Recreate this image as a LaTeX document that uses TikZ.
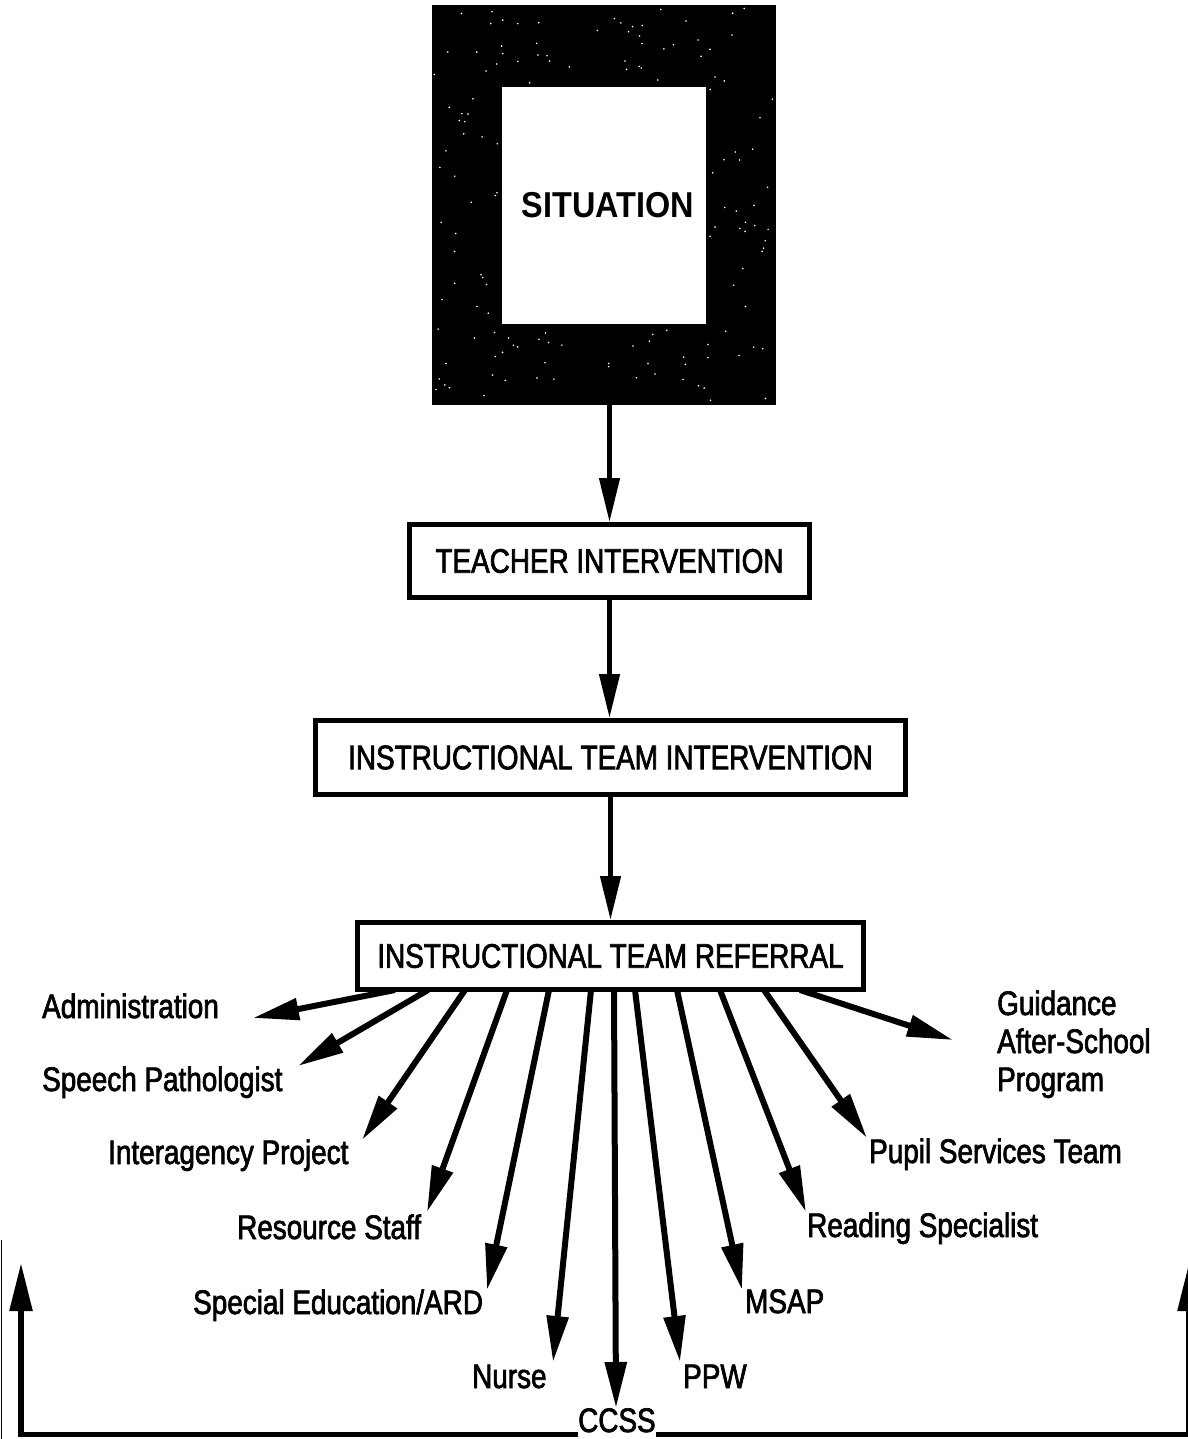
\documentclass[tikz,border=0pt]{standalone}
\usepackage{fontspec}
\setmainfont{Liberation Sans}[FakeStretch=0.82,FakeBold=2]
\newfontfamily\sitfont{Liberation Sans}[FakeStretch=0.9]
\usetikzlibrary{arrows.meta,calc}
\tikzset{
  boxst/.style={draw, line width=5pt, inner sep=0pt, font=\fontsize{34}{40}\selectfont},
  varr/.style={line width=4.5pt, -{Triangle[length=44pt,width=20pt]}},
  farr/.style={line width=6pt, -{Triangle[length=46pt,width=21pt]}},
  fbarr/.style={line width=5.5pt, -{Triangle[length=48pt,width=22pt]}},
  lbl/.style={inner sep=0pt, anchor=base west, font=\fontsize{34}{40}\selectfont},
}
\begin{document}
\begin{tikzpicture}[x=1pt,y=-1pt]
\useasboundingbox (0,0) rectangle (1187,1439);
\fill[white] (0,0) rectangle (1187,1439);

% situation frame
\node[fill=black, minimum width=344pt, minimum height=400pt, inner sep=0pt] (sit) at (604,205) {};
\pgfmathsetseed{11}
\foreach \i in {1,...,45}{
  \pgfmathsetmacro\xx{434+340*rnd}\pgfmathsetmacro\yy{8+76*rnd}
  \fill[white] (\xx,\yy) circle (0.9pt);
  \pgfmathsetmacro\xx{434+340*rnd}\pgfmathsetmacro\yy{328+74*rnd}
  \fill[white] (\xx,\yy) circle (0.9pt);
}
\foreach \i in {1,...,25}{
  \pgfmathsetmacro\xx{435+64*rnd}\pgfmathsetmacro\yy{88+236*rnd}
  \fill[white] (\xx,\yy) circle (0.9pt);
  \pgfmathsetmacro\xx{709+64*rnd}\pgfmathsetmacro\yy{88+236*rnd}
  \fill[white] (\xx,\yy) circle (0.9pt);
}
\node[fill=white, minimum width=204pt, minimum height=237pt, inner sep=0pt] (sitin) at (604,205.5) {};
\node[inner sep=0pt, font=\sitfont\bfseries\fontsize{36}{40}\selectfont] (sittxt) at (608,205) {SITUATION};

% boxes
\node[boxst, minimum width=400pt, minimum height=73pt] (ti) at (609.5,561) {TEACHER INTERVENTION};
\node[boxst, minimum width=590pt, minimum height=74pt] (iti) at (610.5,757.5) {INSTRUCTIONAL TEAM INTERVENTION};
\node[boxst, minimum width=506pt, minimum height=67pt] (itr) at (610.5,956) {INSTRUCTIONAL TEAM REFERRAL};

\draw[varr] (ti.north |- sit.south) -- (ti.north);
\draw[varr] (ti.south) -- (ti.south |- iti.north);
\draw[varr] (iti.south) -- (iti.south |- itr.north);

% labels
\node[lbl] (adm) at (42,1018) {Administration};
\node[lbl] (spp) at (42,1091) {Speech Pathologist};
\node[lbl] (iap) at (108,1164) {Interagency Project};
\node[lbl] (res) at (237,1239) {Resource Staff};
\node[lbl] (sped) at (193,1314) {Special Education/ARD};
\node[lbl] (nur) at (472,1388) {Nurse};
\node[lbl] (ccss) at (578,1432) {CCSS};
\node[lbl] (ppw) at (683,1388) {PPW};
\node[lbl] (msap) at (745,1313) {MSAP};
\node[lbl] (rsp) at (807,1237) {Reading Specialist};
\node[lbl] (pst) at (869,1163) {Pupil Services Team};
\node[lbl] (gd1) at (997,1015) {Guidance};
\node[lbl] (gd2) at (997,1053) {After-School};
\node[lbl] (gd3) at (997,1091) {Program};

% fan arrow tips
\coordinate (t1) at (253,1018);
\coordinate (t2) at (298,1066);
\coordinate (t3) at (362,1140);
\coordinate (t4) at (427,1212);
\coordinate (t5) at (487,1290);
\coordinate (t6) at (553,1362);
\coordinate (t7) at (616,1408);
\coordinate (t8) at (680,1362);
\coordinate (t9) at (742,1290);
\coordinate (t10) at (806,1212);
\coordinate (t11) at (867,1138);
\coordinate (t12) at (953,1040);
\foreach \dx [count=\i] in {40,73,110,152,194,236,259,280,322,365,409,445}
  \draw[farr] ($(itr.south west)+(\dx,-2)$) -- (t\i);

% feedback line
\coordinate (lc) at (21,1434.5);
\coordinate (lt) at (21,1263);
\coordinate (rc) at (1189,1434.5);
\coordinate (rt) at (1189,1263);
\draw[fbarr] (ccss.base west |- lc) -- (lc) -- (lt);
\draw[fbarr] (ccss.base east |- rc) -- (rc) -- (rt);
\draw[line width=1.5pt] (1.5,1240) -- (1.5,1439);
\end{tikzpicture}
\end{document}
